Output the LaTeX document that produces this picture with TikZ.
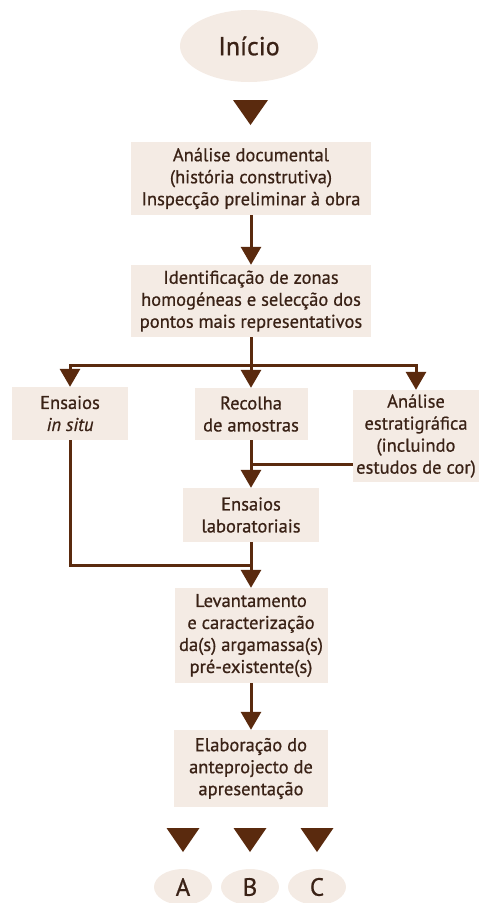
\documentclass[tikz,border=0pt]{standalone}
\usepackage{fontspec}
\setmainfont{PT Sans}[UprightFeatures={FakeBold=0.7},ItalicFeatures={FakeBold=0.7}]
\usetikzlibrary{arrows.meta,shapes.geometric}
\definecolor{brun}{HTML}{5A2A0E}
\definecolor{bege}{HTML}{F4EBE4}
\definecolor{texto}{HTML}{3A2216}

\begin{document}
\begin{tikzpicture}[x=1pt,y=-1pt,
  caixa/.style={fill=bege,text=texto,align=center,inner sep=0pt,font=\fontsize{18.5}{22}\selectfont},
  elipse/.style={ellipse,fill=bege,text=texto,inner sep=0pt},
  seta/.style={draw=brun,line width=3pt,-{Triangle[width=20pt,length=18pt]}},
  linha/.style={draw=brun,line width=3pt},
  marca/.style={fill=brun}]
\useasboundingbox (0,0) rectangle (483,903);
\clip (0,0) rectangle (483,903);
\node[elipse,minimum width=138pt,minimum height=72pt,font=\fontsize{26}{30}\selectfont] (inicio) at (249,46) {Início};
\fill[marca] (233,100) -- (268,100) -- (250.5,125) -- cycle;
\node[caixa,minimum width=240pt,minimum height=73pt] (analise) at (251,178.5) {Análise documental\\(história construtiva)\\Inspecção preliminar à obra};
\node[caixa,minimum width=240pt,minimum height=72pt] (zonas) at (251,301) {Identificação de zonas\\homogéneas e selecção dos\\pontos mais representativos};
\node[caixa,minimum width=116pt,minimum height=53pt] (insitu) at (70,413.5) {Ensaios\\\textit{in situ}};
\node[caixa,minimum width=113pt,minimum height=52pt] (recolha) at (251,414) {Recolha\\de amostras};
\node[caixa,minimum width=126pt,minimum height=92pt] (estrat) at (416,436) {Análise\\estratigráfica\\(incluindo\\estudos de cor)};
\node[caixa,minimum width=136pt,minimum height=54pt] (lab) at (251,515) {Ensaios\\laboratoriais};
\node[caixa,minimum width=153pt,minimum height=95pt] (levant) at (251,635.5) {Levantamento\\e caracterização\\da(s) argamassa(s)\\pré-existente(s)};
\node[caixa,minimum width=154pt,minimum height=77pt] (elab) at (251,768.5) {Elaboração do\\anteprojecto de\\apresentação};
\draw[seta] (analise) -- (zonas);
\coordinate (split) at (251,365);
\draw[linha] (zonas) -- (split);
\draw[seta] (split) -| (insitu);
\draw[seta] (split) -- (recolha);
\draw[seta] (split) -| (estrat);
\coordinate (juncao) at (251,464);
\draw[linha] (estrat.west |- juncao) -- (juncao);
\draw[seta] (recolha) -- (lab);
\coordinate (juncao2) at (251,565);
\draw[linha] (insitu) |- (juncao2);
\draw[seta] (lab) -- (levant);
\draw[seta] (levant) -- (elab);
\foreach \cx in {183,250,317}
  \fill[marca] ({\cx-16.5},828) -- ({\cx+16.5},828) -- (\cx,852) -- cycle;
\node[elipse,minimum width=58pt,minimum height=36pt,font=\fontsize{25}{30}\selectfont] (a) at (183,887) {A};
\node[elipse,minimum width=58pt,minimum height=36pt,font=\fontsize{25}{30}\selectfont] (b) at (250,887) {B};
\node[elipse,minimum width=58pt,minimum height=36pt,font=\fontsize{25}{30}\selectfont] (c) at (317,887) {C};
\end{tikzpicture}
\end{document}
